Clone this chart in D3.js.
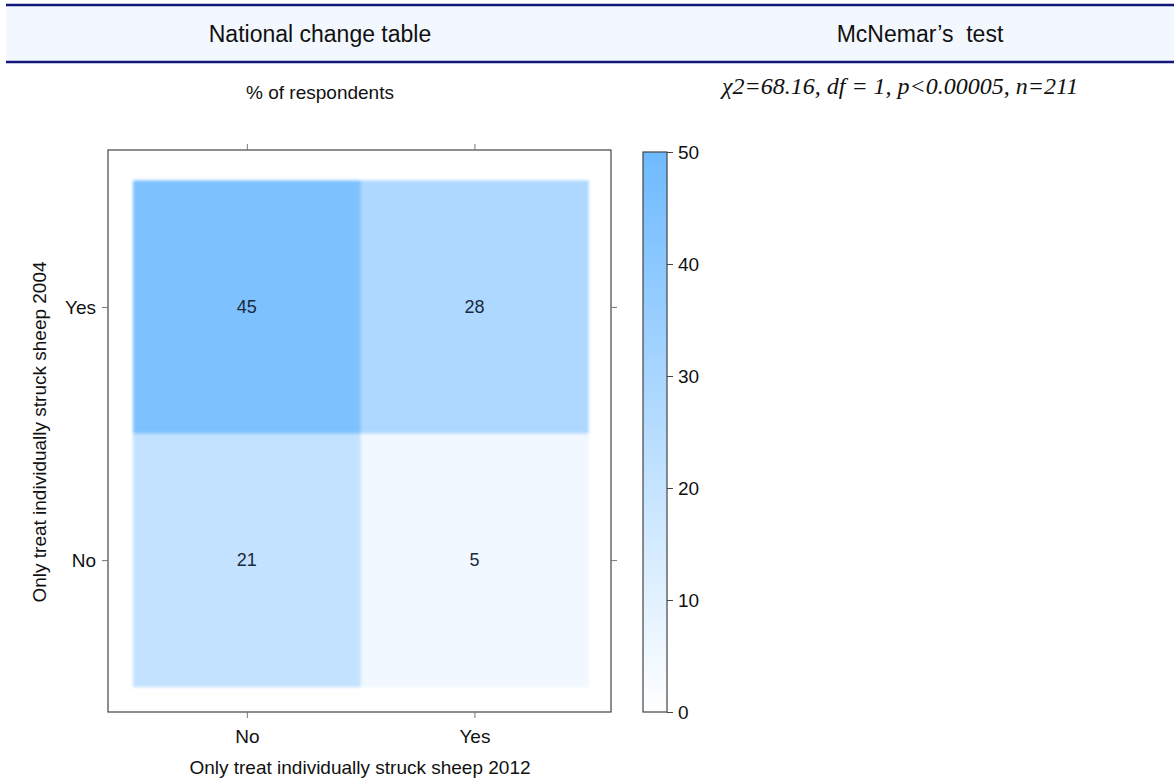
<!DOCTYPE html>
<html>
<head>
<meta charset="utf-8">
<script src="https://cdn.jsdelivr.net/npm/d3@7"></script>
<style>
  body { margin: 0; background: #fff; }
  text { font-family: Arial, "Liberation Sans", sans-serif; }
</style>
</head>
<body>
<div id="chart"></div>
<script>
const width = 1174;
const height = 780;

// data
var levels2012 = ['No', 'Yes'];
var levels2004 = ['No', 'Yes'];
// % of respondents, 2004 answer x 2012 answer
var cells = [
  {y2004: 'Yes', y2012: 'No',  pct: 45},
  {y2004: 'Yes', y2012: 'Yes', pct: 28},
  {y2004: 'No',  y2012: 'No',  pct: 21},
  {y2004: 'No',  y2012: 'Yes', pct: 5}
];
var colorTicks = [0, 10, 20, 30, 40, 50];
var headers = ['National change table', "McNemar\u2019s  test"];
var statText = '\u03c72=68.16, df = 1, p<0.00005, n=211';

var color_max = '#6ebaff';
var color_line = '#10167a';
var color_frame = '#444';

var svg = d3.select('#chart').append('svg')
  .attr('width', width)
  .attr('height', height);

// header band
svg.append('rect')
  .attr('x', 6).attr('y', 5)
  .attr('width', width - 6).attr('height', 57)
  .attr('fill', '#f3f8ff');
[5, 62].forEach(function(y) {
  svg.append('line')
    .attr('x1', 6).attr('x2', width)
    .attr('y1', y).attr('y2', y)
    .attr('stroke', color_line)
    .attr('stroke-width', 2.5);
});
svg.selectAll('text.hdr')
  .data(headers)
  .enter().append('text')
  .attr('class', 'hdr')
  .attr('x', function(d, i) { return i == 0 ? 320 : 920; })
  .attr('y', 42)
  .attr('text-anchor', 'middle')
  .attr('font-size', 23)
  .attr('fill', '#111')
  .style('white-space', 'pre')
  .text(function(d) { return d; });

svg.append('text')
  .attr('x', 320).attr('y', 99)
  .attr('text-anchor', 'middle')
  .attr('font-size', 19)
  .attr('fill', '#111')
  .text('% of respondents');

svg.append('text')
  .attr('x', 722).attr('y', 94)
  .style('font-family', '"Liberation Serif", "Times New Roman", serif')
  .style('font-style', 'italic')
  .attr('font-size', 24)
  .attr('fill', '#111')
  .text(statText);

// panel
var panel = {left: 108, right: 611, top: 150, bottom: 712};

var x = d3.scaleLinear().domain([0.39, 2.6]).range([panel.left, panel.right]);
var y = d3.scaleLinear().domain([0.4, 2.62]).range([panel.bottom, panel.top]);

var color = d3.scaleLinear().domain([0, 50])
  .interpolate(d3.interpolateRgb)
  .range(['#ffffff', color_max]);

function xi(v) { return levels2012.indexOf(v) + 1; }
function yi(v) { return levels2004.indexOf(v) + 1; }

var defs = svg.append('defs');
defs.append('filter').attr('id', 'soft')
  .attr('x', '-5%').attr('y', '-5%').attr('width', '110%').attr('height', '110%')
  .append('feGaussianBlur').attr('stdDeviation', 1.6);

var g = svg.append('g');

g.append('g').attr('filter', 'url(#soft)')
  .selectAll('rect.cell')
  .data(cells)
  .enter().append('rect')
  .attr('class', 'cell')
  .attr('x', function(d) { return x(xi(d.y2012) - 0.5); })
  .attr('y', function(d) { return y(yi(d.y2004) + 0.5); })
  .attr('width', x(1.5) - x(0.5) + 0.5)
  .attr('height', y(0.5) - y(1.5) + 0.5)
  .attr('fill', function(d) { return color(d.pct); });

g.selectAll('text.val')
  .data(cells)
  .enter().append('text')
  .attr('class', 'val')
  .attr('x', function(d) { return x(xi(d.y2012)); })
  .attr('y', function(d) { return y(yi(d.y2004)); })
  .attr('dy', '0.35em')
  .attr('text-anchor', 'middle')
  .attr('font-size', 18)
  .attr('fill', '#1a2a40')
  .text(function(d) { return d.pct; });

g.append('rect')
  .attr('x', panel.left).attr('y', panel.top)
  .attr('width', panel.right - panel.left)
  .attr('height', panel.bottom - panel.top)
  .attr('fill', 'none')
  .attr('stroke', color_frame)
  .attr('stroke-width', 1.2);

// axes, ticks on all four sides
var tickFmtX = function(d) { return levels2012[d - 1]; };
var tickFmtY = function(d) { return levels2004[d - 1]; };

var axB = g.append('g').attr('transform', 'translate(0,' + panel.bottom + ')')
  .call(d3.axisBottom(x).tickValues([1, 2]).tickFormat(tickFmtX).tickSize(6).tickPadding(12));
var axT = g.append('g').attr('transform', 'translate(0,' + panel.top + ')')
  .call(d3.axisTop(x).tickValues([1, 2]).tickFormat('').tickSize(6));
var axL = g.append('g').attr('transform', 'translate(' + panel.left + ',0)')
  .call(d3.axisLeft(y).tickValues([1, 2]).tickFormat(tickFmtY).tickSize(6).tickPadding(6));
var axR = g.append('g').attr('transform', 'translate(' + panel.right + ',0)')
  .call(d3.axisRight(y).tickValues([1, 2]).tickFormat('').tickSize(6));

[axB, axT, axL, axR].forEach(function(a) {
  a.select('.domain').remove();
  a.selectAll('line').attr('stroke', '#777');
  a.selectAll('text').attr('font-size', 19).attr('fill', '#111')
    .style('font-family', 'Arial, "Liberation Sans", sans-serif');
});

svg.append('text')
  .attr('x', 360).attr('y', 774)
  .attr('text-anchor', 'middle')
  .attr('font-size', 19)
  .attr('fill', '#111')
  .text('Only treat individually struck sheep 2012');

svg.append('text')
  .attr('transform', 'translate(46,432) rotate(-90)')
  .attr('text-anchor', 'middle')
  .attr('font-size', 19)
  .attr('fill', '#111')
  .text('Only treat individually struck sheep 2004');

// colour key
var key = {left: 643, right: 667, top: 152, bottom: 712};
var ky = d3.scaleLinear().domain([0, 50]).range([key.bottom, key.top]);

var grad = defs.append('linearGradient')
  .attr('id', 'keygrad')
  .attr('x1', 0).attr('y1', 1).attr('x2', 0).attr('y2', 0);
grad.selectAll('stop')
  .data([0, 50])
  .enter().append('stop')
  .attr('offset', function(d) { return d / 50; })
  .attr('stop-color', function(d) { return color(d); });

svg.append('rect')
  .attr('x', key.left).attr('y', key.top)
  .attr('width', key.right - key.left)
  .attr('height', key.bottom - key.top)
  .attr('fill', 'url(#keygrad)')
  .attr('stroke', color_frame)
  .attr('stroke-width', 1.2);

var axK = svg.append('g').attr('transform', 'translate(' + key.right + ',0)')
  .call(d3.axisRight(ky).tickValues(colorTicks).tickSize(6).tickPadding(5));
axK.select('.domain').remove();
axK.selectAll('line').attr('stroke', '#444');
axK.selectAll('text').attr('font-size', 19).attr('fill', '#111')
  .style('font-family', 'Arial, "Liberation Sans", sans-serif');
</script>
</body>
</html>
